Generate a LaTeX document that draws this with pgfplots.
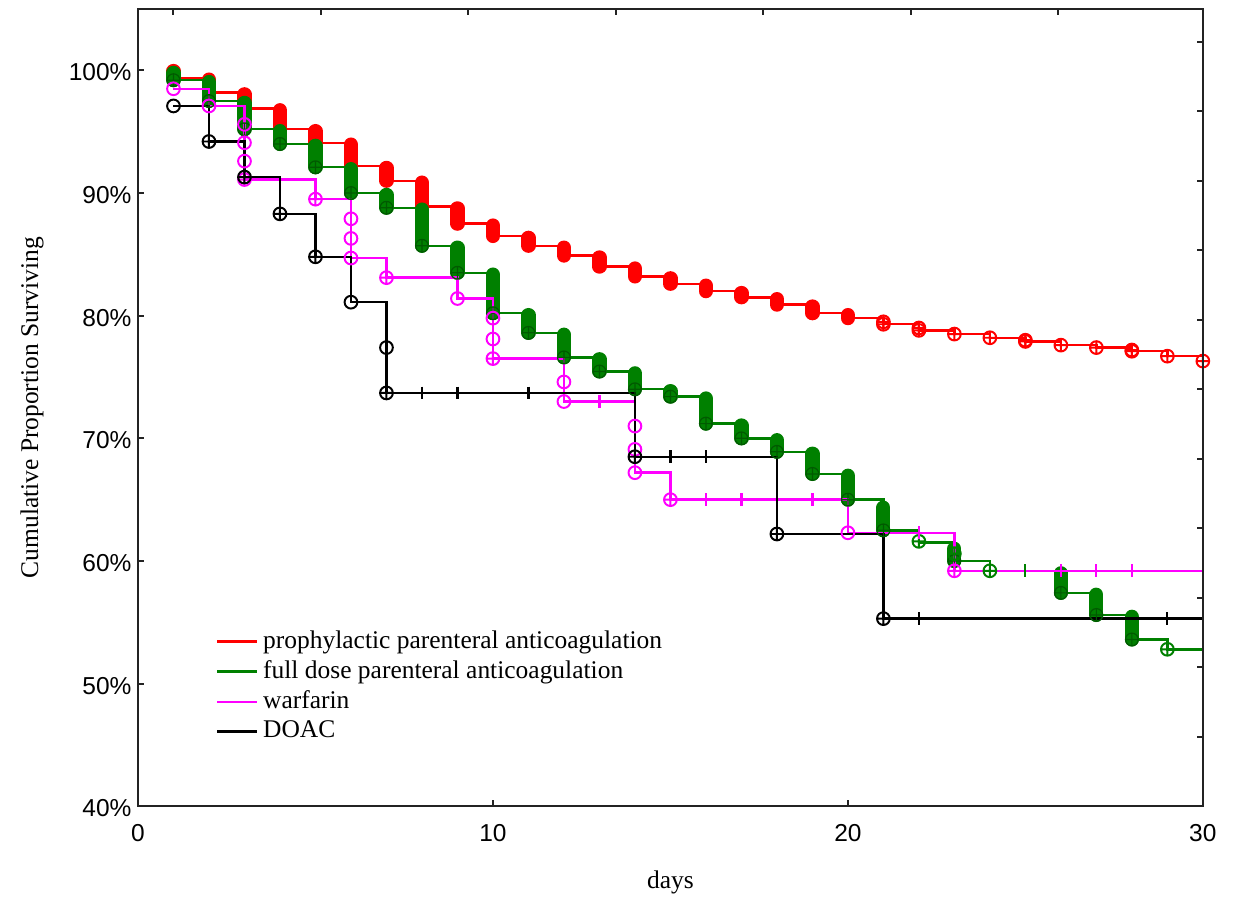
\documentclass[border=0pt]{standalone}
\usepackage{fontspec}
\setmainfont{Liberation Serif}
\setsansfont{Liberation Sans}
\usepackage{pgfplots}
\pgfplotsset{compat=1.18}
\usetikzlibrary{calc}
\definecolor{kmred}{RGB}{255,0,0}
\definecolor{kmgreen}{RGB}{0,128,0}
\definecolor{kmdkgreen}{RGB}{0,90,0}
\definecolor{kmmag}{RGB}{255,0,255}
\definecolor{axgray}{RGB}{35,35,35}

\begin{document}
\begin{tikzpicture}
\pgfplotsset{
  kmbase/.style={
    scale only axis, width=15.28cm, height=11.44cm,
    xmin=0, xmax=30, ymin=40, ymax=105,
    tick align=inside, major tick length=0.09cm,
    axis line style={line width=0.8pt, axgray},
    every tick/.style={axgray, line width=0.8pt},
  },
}
\begin{axis}[kmbase,
  xtick={0,10,20,30}, xticklabels={0,10,20,30},
  ytick={40,50,...,100},
  yticklabels={40\%,50\%,60\%,70\%,80\%,90\%,100\%},
  tick pos=left,
  ticklabel style={font=\sffamily\fontsize{10}{12}\selectfont},
  xticklabel style={yshift=-0.14cm},
  yticklabel style={xshift=0.03cm, yshift=-0.03cm},
  xlabel={days}, ylabel={Cumulative Proportion Surviving},
  label style={font=\fontsize{10.4}{12.5}\selectfont},
  xlabel style={yshift=-0.17cm},
  ylabel style={yshift=0.12cm},
  unbounded coords=jump,
  legend style={at={(0.066,0.233)}, anchor=north west, draw=none, fill=none,
    font=\fontsize{10.4}{12.5}\selectfont, row sep=-0.5pt},
  legend cell align=left,
  legend image code/.code={\draw[#1, line width=1pt] (0cm,0cm) -- (0.57cm,0cm);},
  pill/.style={line width=5.8pt, line cap=round, forget plot},
  ev/.style={only marks, mark=oplus, mark size=2.6pt, line width=0.8pt, forget plot},
  evo/.style={only marks, mark=o, mark size=2.6pt, line width=0.8pt, forget plot},
  cens/.style={only marks, mark=|, mark size=2.6pt, line width=0.9pt, forget plot},
]

% ---------------- prophylactic parenteral anticoagulation
\addplot[pill, kmred] coordinates {
(1,99.95)(1,99.4)(1,nan)
(2,99.25)(2,98.2)(2,nan)
(3,98.05)(3,96.9)(3,nan)
(4,96.75)(4,95.2)(4,nan)
(5,95.05)(5,94.1)(5,nan)
(6,93.95)(6,92.2)(6,nan)
(7,92.05)(7,91.0)(7,nan)
(8,90.85)(8,88.9)(8,nan)
(9,88.75)(9,87.5)(9,nan)
(10,87.35)(10,86.5)(10,nan)
(11,86.35)(11,85.7)(11,nan)
(12,85.55)(12,84.9)(12,nan)
(13,84.75)(13,84.0)(13,nan)
(14,83.85)(14,83.2)(14,nan)
(15,83.05)(15,82.6)(15,nan)
(16,82.45)(16,82.0)(16,nan)
(17,81.85)(17,81.5)(17,nan)
(18,81.35)(18,80.9)(18,nan)
(19,80.75)(19,80.2)(19,nan)
(20,80.05)(20,79.8)
};
\addplot[ev, kmred] coordinates {
(21,79.5)(21,79.3)(22,79.0)(22,78.8)(23,78.5)(24,78.2)(25,78.0)(25,77.9)
(26,77.6)(27,77.4)(28,77.2)(28,77.1)(29,76.7)(30,76.3)
};
\addplot[const plot, kmred, line width=1pt, mark=none] coordinates {
(1,99.4)(2,98.2)(3,96.9)(4,95.2)(5,94.1)(6,92.2)(7,91.0)(8,88.9)(9,87.5)
(10,86.5)(11,85.7)(12,84.9)(13,84.0)(14,83.2)(15,82.6)(16,82.0)(17,81.5)
(18,80.9)(19,80.2)(20,79.8)(21,79.3)(22,78.8)(23,78.5)(24,78.2)(25,77.9)
(26,77.6)(27,77.4)(28,77.1)(29,76.7)(30,76.3)
};
\addlegendentry{prophylactic parenteral anticoagulation}

% ---------------- full dose parenteral anticoagulation
\addplot[pill, kmgreen] coordinates {
(1,99.8)(1,99.2)(1,nan)
(2,99.05)(2,97.5)(2,nan)
(3,97.35)(3,95.2)(3,nan)
(4,95.05)(4,94.0)(4,nan)
(5,93.85)(5,92.1)(5,nan)
(6,91.95)(6,90.0)(6,nan)
(7,89.85)(7,88.8)(7,nan)
(8,88.65)(8,85.7)(8,nan)
(9,85.55)(9,83.5)(9,nan)
(10,83.35)(10,80.2)(10,nan)
(11,80.05)(11,78.6)(11,nan)
(12,78.45)(12,76.6)(12,nan)
(13,76.45)(13,75.45)(13,nan)
(14,75.3)(14,74.0)(14,nan)
(15,73.85)(15,73.4)(15,nan)
(16,73.25)(16,71.2)(16,nan)
(17,71.05)(17,70.0)(17,nan)
(18,69.85)(18,68.9)(18,nan)
(19,68.75)(19,67.1)(19,nan)
(20,66.95)(20,65.0)(20,nan)
(21,64.35)(21,62.5)(21,nan)
(23,61.0)(23,60.0)(23,nan)
(26,59.0)(26,57.4)(26,nan)
(27,57.25)(27,55.6)(27,nan)
(28,55.45)(28,53.6)
};
\addplot[ev, kmdkgreen, line width=0.5pt] coordinates {
(1,99.2)(2,97.5)(3,95.2)(4,94.0)(5,92.1)(6,90.0)(7,88.8)(8,85.7)(9,83.5)
(10,80.2)(11,78.6)(12,76.6)(13,75.45)(14,74.0)(15,73.4)(16,71.2)(17,70.0)
(18,68.9)(19,67.1)(20,65.0)(21,62.5)(23,60.0)(26,57.4)(27,55.6)(28,53.6)
};
\addplot[ev, kmgreen] coordinates {(22,61.6)(23,60.6)(24,59.2)(29,52.8)};
\addplot[cens, kmgreen] coordinates {(25,59.2)(30,52.8)};
\addplot[const plot, kmgreen, line width=1pt, mark=none] coordinates {
(1,99.2)(2,97.5)(3,95.2)(4,94.0)(5,92.1)(6,90.0)(7,88.8)(8,85.7)(9,83.5)
(10,80.2)(11,78.6)(12,76.6)(13,75.45)(14,74.0)(15,73.4)(16,71.2)(17,70.0)
(18,68.9)(19,67.1)(20,65.0)(21,62.5)(22,61.5)(23,60.0)(24,59.2)(26,57.4)
(27,55.6)(28,53.6)(29,52.8)(30,52.8)
};
\addlegendentry{full dose parenteral anticoagulation}

% ---------------- warfarin
\addplot[const plot, kmmag, line width=1pt, mark=none] coordinates {
(1,98.5)(2,97.1)(3,91.1)(5,89.5)(6,84.7)(7,83.1)(9,81.4)(10,76.5)(12,73.0)
(14,67.2)(15,65.0)(20,62.3)(23,59.2)(30,59.2)
};
\addlegendentry{warfarin}
\addplot[evo, kmmag] coordinates {
(1,98.5)(2,97.1)(3,95.6)(3,94.1)(3,92.6)(6,87.9)(6,86.3)(6,84.7)(9,81.4)
(10,79.8)(10,78.1)(12,74.6)(12,73.0)(14,71.0)(14,69.1)(14,67.2)(20,62.3)
};
\addplot[ev, kmmag] coordinates {(3,91.1)(5,89.5)(7,83.1)(10,76.5)(15,65.0)(23,59.2)};
\addplot[cens, kmmag] coordinates {
(13,73.0)(16,65.0)(17,65.0)(19,65.0)(22,62.3)(26,59.2)(27,59.2)(28,59.2)(30,59.2)
};

% ---------------- DOAC
\addplot[const plot, black, line width=1pt, mark=none] coordinates {
(1,97.1)(2,94.2)(3,91.3)(4,88.3)(5,84.8)(6,81.1)(7,73.7)(14,68.5)(18,62.2)
(21,55.3)(30,55.3)
};
\addlegendentry{DOAC}
\addplot[evo, black] coordinates {(1,97.1)(6,81.1)(7,77.4)};
\addplot[ev, black] coordinates {
(2,94.2)(3,91.3)(4,88.3)(5,84.8)(7,73.7)(14,68.5)(18,62.2)(21,55.3)
};
\addplot[cens, black] coordinates {
(8,73.7)(9,73.7)(11,73.7)(15,68.5)(16,68.5)(22,55.3)(29,55.3)(30,55.3)
};

\coordinate (bl) at (rel axis cs:0,0);
\coordinate (tr) at (rel axis cs:1,1);
\end{axis}

% top and right tick marks of the frame
\begin{axis}[kmbase,
  xtick={1.0,5.16,9.31,13.47,17.62,21.78,25.93}, xticklabels={},
  ytick={45.67,51.33,57.0,62.66,68.33,73.99,79.66,85.32,90.99,96.65,102.31},
  yticklabels={},
  xtick pos=right, ytick pos=right,
]
\end{axis}

\pgfresetboundingbox
\path ($(bl)+(-1.98cm,-1.29cm)$) rectangle ($(tr)+(0.49cm,0.13cm)$);
\end{tikzpicture}
\end{document}
